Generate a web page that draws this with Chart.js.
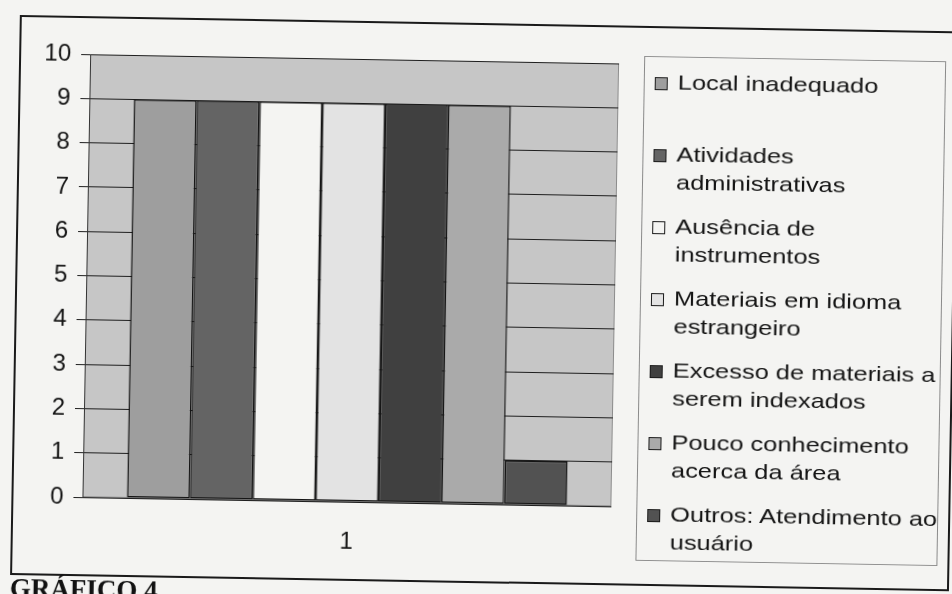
<!DOCTYPE html>
<html>
<head>
<meta charset="utf-8">
<script src="https://cdn.jsdelivr.net/npm/chart.js@4.4.1/dist/chart.umd.min.js"></script>
<style>
  html, body { margin: 0; padding: 0; background: #f4f4f2; }
  #page { position: relative; width: 952px; height: 594px; overflow: hidden; font-family: "Liberation Sans", Arial, sans-serif; }
  /* folha levemente inclinada */
  #sheet { position: absolute; left: 0; top: 0; width: 952px; height: 594px; transform: rotate(1deg); transform-origin: 476px 297px; }
  #frame { position: absolute; left: 15px; top: 23px; width: 935px; height: 556px; border: 2px solid #1a1a1a; }
  #chart-wrap { position: absolute; left: 0; top: 0; width: 952px; height: 594px; }
  #legend { position: absolute; left: 640px; top: 53px; width: 300px; height: 503px; border: 1px solid #8a8a8a; }
  .item { position: absolute; left: 33px; font-size: 21px; line-height: 28px; color: #141414; }
  .item .ln { display: block; white-space: nowrap; transform: scaleX(1.21); transform-origin: 0 0; }
  .swatch { position: absolute; left: -23px; top: 9px; width: 11px; height: 11px; border: 1px solid #1a1a1a; }
  #caption { position: absolute; left: 15px; top: 583px; font-family: "Liberation Serif", "Times New Roman", serif; font-weight: bold; font-size: 27px; line-height: 27px; color: #111; white-space: nowrap; }
</style>
</head>
<body>
<div id="page">
  <div id="sheet">
    <div id="frame"></div>
    <div id="chart-wrap"><canvas id="chart"></canvas></div>
    <div id="legend"></div>
    <div id="caption">GRÁFICO 4</div>
  </div>
</div>
<script>
// dados do gráfico
const categories = ['1'];
const seriesNames = [
  'Local inadequado',
  'Atividades administrativas',
  'Ausência de instrumentos',
  'Materiais em idioma estrangeiro',
  'Excesso de materiais a serem indexados',
  'Pouco conhecimento acerca da área',
  'Outros: Atendimento ao usuário'
];
// quebra de linha usada na legenda
const legendLines = [
  ['Local inadequado'],
  ['Atividades', 'administrativas'],
  ['Ausência de', 'instrumentos'],
  ['Materiais em idioma', 'estrangeiro'],
  ['Excesso de materiais a', 'serem indexados'],
  ['Pouco conhecimento', 'acerca da área'],
  ['Outros: Atendimento ao', 'usuário']
];
const seriesValues = [9, 9, 9, 9, 9, 9, 1];
const seriesColors = ['#9e9e9e', '#646464', '#f4f4f2', '#e3e3e3', '#404040', '#aaaaaa', '#525252'];
const yTicks = [0, 1, 2, 3, 4, 5, 6, 7, 8, 9, 10];

// fundo cinza da área de plotagem
const plotBg = {
  id: 'plotBg',
  beforeDraw(chart) {
    const { ctx, chartArea: a } = chart;
    ctx.save();
    ctx.fillStyle = '#c6c6c6';
    ctx.fillRect(a.left, a.top, a.width, a.height);
    ctx.strokeStyle = '#8c8c8c';
    ctx.lineWidth = 1;
    ctx.strokeRect(a.left + 0.5, a.top + 0.5, a.width - 1, a.height - 1);
    ctx.restore();
  }
};

const datasets = seriesNames.map((name, i) => ({
  label: name,
  data: [seriesValues[i]],
  backgroundColor: seriesColors[i],
  borderColor: '#141414',
  borderWidth: 1.5,
  borderSkipped: false,
  categoryPercentage: 0.832,
  barPercentage: 1
}));

new Chart(document.getElementById('chart'), {
  type: 'bar',
  data: { labels: categories, datasets: datasets },
  plugins: [plotBg],
  options: {
    responsive: true,
    maintainAspectRatio: false,
    animation: false,
    layout: { padding: { top: 61, right: 337, bottom: 0, left: 0 } },
    plugins: { legend: { display: false }, tooltip: { enabled: false } },
    scales: {
      x: {
        grid: { display: false },
        border: { display: false },
        ticks: { color: '#141414', font: { family: 'Liberation Sans', size: 24 }, padding: 18 },
        afterFit(scale) { scale.height = 90; }
      },
      y: {
        min: yTicks[0],
        max: yTicks[yTicks.length - 1],
        afterBuildTicks(scale) { scale.ticks = yTicks.map(v => ({ value: v })); },
        grid: { color: '#1e1e1e', lineWidth: 1, tickLength: 9, drawTicks: true },
        border: { color: '#333', width: 1 },
        ticks: { color: '#141414', font: { family: 'Liberation Sans', size: 24 }, padding: 10 },
        afterFit(scale) { scale.width = 86; }
      }
    }
  }
});

// legenda em HTML, à direita
const legend = document.getElementById('legend');
legendLines.forEach((lines, i) => {
  const item = document.createElement('div');
  item.className = 'item';
  item.style.top = (11 + 72 * i) + 'px';
  const sw = document.createElement('span');
  sw.className = 'swatch';
  sw.style.background = seriesColors[i];
  item.appendChild(sw);
  lines.forEach(t => {
    const ln = document.createElement('span');
    ln.className = 'ln';
    ln.textContent = t;
    item.appendChild(ln);
  });
  legend.appendChild(item);
});
</script>
</body>
</html>
